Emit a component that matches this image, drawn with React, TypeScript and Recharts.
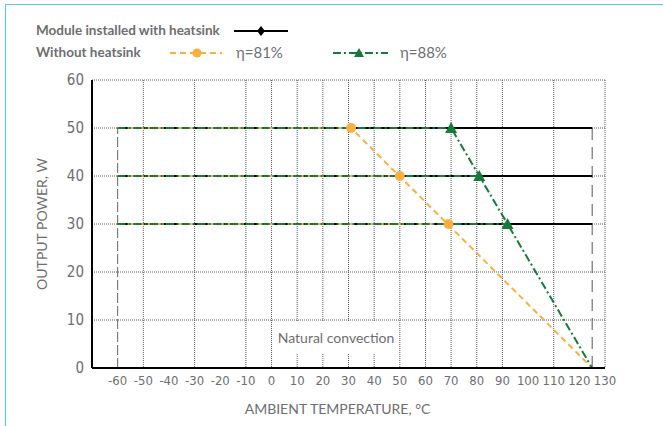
import {
  CartesianGrid,
  Label,
  Line,
  LineChart,
  ReferenceArea,
  ReferenceLine,
  XAxis,
  YAxis,
} from "recharts";

const TEMP_TICKS = [-60, -50, -40, -30, -20, -10, 0, 10, 20, 30, 40, 50, 60, 70, 80, 90, 100, 110, 120, 130];
const POWER_TICKS = [0, 10, 20, 30, 40, 50, 60];

// module with heatsink: flat up to 125 °C
const HEATSINK_50 = [{ t: -60, p: 50 }, { t: 125, p: 50 }];
const HEATSINK_40 = [{ t: -60, p: 40 }, { t: 125, p: 40 }];
const HEATSINK_30 = [{ t: -60, p: 30 }, { t: 125, p: 30 }];

// without heatsink, η=81% (lower levels join the shared derating slope)
const ETA81_50 = [{ t: -60, p: 50 }, { t: 31, p: 50, knee: true }, { t: 125, p: 0 }];
const ETA81_40 = [{ t: -60, p: 40 }, { t: 50, p: 40, knee: true }];
const ETA81_30 = [{ t: -60, p: 30 }, { t: 69, p: 30, knee: true }];

// without heatsink, η=88%
const ETA88_50 = [{ t: -60, p: 50 }, { t: 70, p: 50, knee: true }, { t: 125, p: 0 }];
const ETA88_40 = [{ t: -60, p: 40 }, { t: 81, p: 40, knee: true }];
const ETA88_30 = [{ t: -60, p: 30 }, { t: 92, p: 30, knee: true }];

const ORANGE = "#f9b040";
const GREEN = "#157a3a";
const TEXT = "#6d6e71";
const GRID = "#555";
const NARROW = '"DejaVu Sans Condensed", "Liberation Sans Narrow", sans-serif';
const SANS = 'Lato, "Open Sans", sans-serif';

const circleDot = (props: any) => {
  const { cx, cy, payload, index } = props;
  if (!payload?.knee) return <g key={index} />;
  return <circle key={index} cx={cx} cy={cy} r={5} fill={ORANGE} />;
};

const triangleDot = (props: any) => {
  const { cx, cy, payload, index } = props;
  if (!payload?.knee) return <g key={index} />;
  return (
    <path
      key={index}
      d={`M${cx},${cy - 6} L${cx + 6},${cy + 5} L${cx - 6},${cy + 5} Z`}
      fill={GREEN}
    />
  );
};

function LegendBlock() {
  const label = { position: "absolute" as const, fontFamily: SANS, color: TEXT, fontSize: 13.5 };
  return (
    <>
      <div style={{ ...label, left: 36, top: 22, fontWeight: 700 }}>Module installed with heatsink</div>
      <div style={{ ...label, left: 36, top: 44, fontWeight: 700 }}>Without heatsink</div>
      <svg style={{ position: "absolute", left: 0, top: 0 }} width={663} height={70}>
        <line x1={234} y1={31} x2={288} y2={31} stroke="#000" strokeWidth={2} />
        <path d="M261,26 L265,31 L261,36 L257,31 Z" fill="#000" />
        <line x1={170} y1={53} x2={222} y2={53} stroke={ORANGE} strokeWidth={2} strokeDasharray="6 4" />
        <circle cx={197} cy={53} r={4.5} fill={ORANGE} />
        <line x1={333} y1={53} x2={388} y2={53} stroke={GREEN} strokeWidth={2} strokeDasharray="8 3 2 3" />
        <path d="M359,48 L364,57 L354,57 Z" fill={GREEN} />
      </svg>
      <div style={{ ...label, left: 236, top: 43, fontSize: 15 }}>η=81%</div>
      <div style={{ ...label, left: 400, top: 43, fontSize: 15 }}>η=88%</div>
    </>
  );
}

export default function App() {
  const heat = [HEATSINK_50, HEATSINK_40, HEATSINK_30];
  const eta81 = [ETA81_50, ETA81_40, ETA81_30];
  const eta88 = [ETA88_50, ETA88_40, ETA88_30];
  return (
    <div
      style={{
        position: "absolute",
        left: 0,
        top: 0,
        width: 663,
        height: 426,
        background: "#fff",
        overflow: "hidden",
      }}
    >
      <div
        style={{
          position: "absolute",
          left: 5,
          top: 4,
          width: 700,
          height: 440,
          borderLeft: "1.5px solid #5bc4ee",
          borderTop: "1.5px solid #5bc4ee",
        }}
      />
      <LegendBlock />
      <LineChart
        width={663}
        height={426}
        margin={{ top: 80, right: 58, bottom: 8, left: 0 }}
        style={{ position: "absolute", left: 0, top: 0 }}
      >
        <CartesianGrid stroke={GRID} strokeDasharray="1 1" />
        <XAxis
          type="number"
          dataKey="t"
          domain={[-70, 130]}
          ticks={TEMP_TICKS}
          height={50}
          stroke="#000"
          strokeWidth={2}
          tickLine={false}
          tick={{ fill: TEXT, fontSize: 13, fontFamily: NARROW }}
          allowDuplicatedCategory={false}
        >
          <Label
            value="AMBIENT TEMPERATURE, °C"
            position="insideBottom"
            offset={4}
            dx={-11}
            style={{ fill: TEXT, fontSize: 14, fontFamily: SANS }}
          />
        </XAxis>
        <YAxis
          type="number"
          dataKey="p"
          domain={[0, 60]}
          ticks={POWER_TICKS}
          width={92}
          stroke="#000"
          strokeWidth={2}
          tickLine={false}
          tick={{ fill: TEXT, fontSize: 15, fontFamily: NARROW }}
        >
          <Label
            value="OUTPUT POWER, W"
            angle={-90}
            position="insideLeft"
            offset={42}
            style={{ fill: TEXT, fontSize: 14, fontFamily: SANS, textAnchor: "middle" }}
          />
        </YAxis>
        <ReferenceArea
          x1={1}
          x2={49.3}
          y1={2.9}
          y2={9.6}
          fill="#fff"
          fillOpacity={1}
          stroke="none"
          label={{ value: "Natural convection", fill: TEXT, fontSize: 14, fontFamily: SANS }}
        />
        <ReferenceLine
          segment={[{ x: -60, y: 0 }, { x: -60, y: 50 }]}
          stroke="#666"
          strokeDasharray="10 3"
        />
        <ReferenceLine
          segment={[{ x: 125, y: 0 }, { x: 125, y: 50 }]}
          stroke="#555"
          strokeDasharray="12 7"
        />
        {heat.map((d, i) => (
          <Line
            key={`h${i}`}
            data={d}
            dataKey="p"
            type="linear"
            stroke="#000"
            strokeWidth={2}
            dot={false}
            activeDot={false}
            isAnimationActive={false}
          />
        ))}
        {eta81.map((d, i) => (
          <Line
            key={`o${i}`}
            data={d}
            dataKey="p"
            type="linear"
            stroke={ORANGE}
            strokeWidth={2}
            strokeDasharray="6 4"
            dot={circleDot}
            activeDot={false}
            isAnimationActive={false}
          />
        ))}
        {eta88.map((d, i) => (
          <Line
            key={`g${i}`}
            data={d}
            dataKey="p"
            type="linear"
            stroke={GREEN}
            strokeWidth={2}
            strokeDasharray="8 3 2 3"
            dot={triangleDot}
            activeDot={false}
            isAnimationActive={false}
          />
        ))}
      </LineChart>
    </div>
  );
}
